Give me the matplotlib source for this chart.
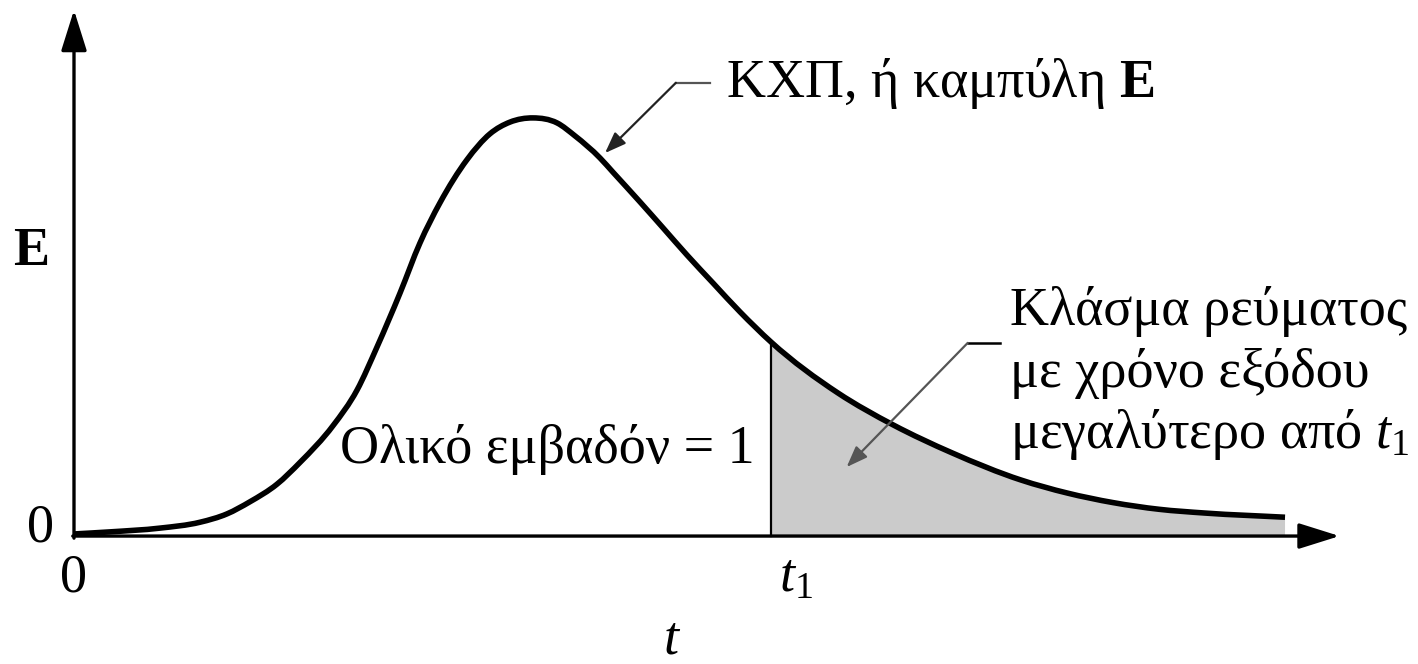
import numpy as np
import matplotlib
matplotlib.use("Agg")
import matplotlib.pyplot as plt
from matplotlib.path import Path
from matplotlib.patches import PathPatch

plt.rcParams["font.family"] = ["Liberation Serif", "DejaVu Serif"]
plt.rcParams["mathtext.fontset"] = "custom"
plt.rcParams["mathtext.rm"] = "Liberation Serif"
plt.rcParams["mathtext.it"] = "Liberation Serif:italic"
plt.rcParams["mathtext.bf"] = "Liberation Serif:bold"

# E(t) curve (t in arbitrary units, E normalised to peak ~1)
t_vals = [0.000, 0.297, 0.710, 1.040, 1.263, 1.453, 1.676, 1.866, 2.139, 2.337,
          2.502, 2.692, 2.857, 3.022, 3.245, 3.435, 3.600, 3.790, 3.989, 4.137,
          4.344, 4.451, 4.674, 4.864, 5.062, 5.277, 5.500, 5.756, 6.309, 6.763,
          7.250, 7.820, 8.200, 8.580, 8.960, 9.339, 10.000]
e_vals = [0.005, 0.010, 0.019, 0.033, 0.053, 0.082, 0.124, 0.176, 0.264, 0.349,
          0.452, 0.581, 0.701, 0.797, 0.900, 0.962, 0.990, 1.000, 0.988, 0.957,
          0.904, 0.870, 0.799, 0.737, 0.672, 0.605, 0.536, 0.464, 0.342, 0.266,
          0.199, 0.134, 0.103, 0.080, 0.064, 0.055, 0.045]
t1 = 5.756

curve_label = r"ΚΧΠ, ή καμπύλη $\mathbf{E}$"
area_label = "Ολικό εμβαδόν = 1"
frac_lines = ["Κλάσμα ρεύματος", "με χρόνο εξόδου", r"μεγαλύτερο από $t_1$"]

FS = 39


def smooth_path(t, e):
    # cubic Hermite segments written as Bezier curves so the line is smooth
    m = np.gradient(e, t)
    verts = [(t[0], e[0])]
    codes = [Path.MOVETO]
    for i in range(len(t) - 1):
        h = t[i + 1] - t[i]
        verts += [(t[i] + h / 3, e[i] + m[i] * h / 3),
                  (t[i + 1] - h / 3, e[i + 1] - m[i + 1] * h / 3),
                  (t[i + 1], e[i + 1])]
        codes += [Path.CURVE4] * 3
    return verts, codes


fig = plt.figure(figsize=(14.18, 6.64), dpi=100)
ax = fig.add_axes([0, 0, 1, 1])
ax.set_xlim(-0.611, 11.098)
ax.set_ylim(-0.306, 1.282)
ax.axis("off")

t = np.array(t_vals)
e = np.array(e_vals)
verts, codes = smooth_path(t, e)

# shaded tail beyond t1
i1 = int(np.argmin(np.abs(t - t1)))
tail_v = verts[3 * i1:] + [(t[-1], 0), (t[i1], 0), (t[i1], e[i1])]
tail_c = [Path.MOVETO] + codes[3 * i1 + 1:] + [Path.LINETO, Path.LINETO, Path.CLOSEPOLY]
ax.add_patch(PathPatch(Path(tail_v, tail_c), facecolor="#cbcbcb", edgecolor="none", zorder=1))

ax.add_patch(PathPatch(Path(verts, codes), facecolor="none", edgecolor="black",
                       lw=4.0, capstyle="butt", zorder=3))
ax.plot([t1, t1], [0, e[i1]], color="black", lw=1.6, zorder=2)

# axes with arrow heads
axis_arrow = dict(arrowstyle="-|>,head_length=0.7,head_width=0.22",
                  lw=2.4, color="black", mutation_scale=36, shrinkA=0, shrinkB=0)
ax.annotate("", xy=(0, 1.258), xytext=(0, -0.005), arrowprops=axis_arrow, zorder=4)
ax.annotate("", xy=(10.45, 0), xytext=(-0.01, 0), arrowprops=axis_arrow, zorder=4)

# leader for the curve label
ax.plot([4.97, 5.25], [1.084, 1.084], color="#555555", lw=1.6)
ax.annotate("", xy=(4.385, 0.916), xytext=(4.97, 1.084),
            arrowprops=dict(arrowstyle="-|>,head_length=0.8,head_width=0.3",
                            lw=1.6, color="#222222", mutation_scale=16,
                            shrinkA=0, shrinkB=0))

# leader for the tail label
ax.plot([7.38, 7.65], [0.462, 0.462], color="black", lw=1.8)
ax.annotate("", xy=(6.38, 0.165), xytext=(7.38, 0.462),
            arrowprops=dict(arrowstyle="-|>,head_length=0.8,head_width=0.3",
                            lw=1.6, color="#555555", mutation_scale=16,
                            shrinkA=0, shrinkB=0))

# texts
ax.text(5.38, 1.050, curve_label, fontsize=FS, ha="left", va="baseline")
ax.text(2.20, 0.175, area_label, fontsize=FS, ha="left", va="baseline")
frac_y = [0.505, 0.356, 0.211]
for line, y in zip(frac_lines, frac_y):
    ax.text(7.73, y, line, fontsize=FS, ha="left", va="baseline")

ax.text(-0.50, 0.648, "E", fontsize=FS, fontweight="bold", ha="left", va="baseline")
ax.text(-0.28, -0.014, "0", fontsize=FS, ha="center", va="baseline")
ax.text(0.0, -0.132, "0", fontsize=FS, ha="center", va="baseline")
ax.text(5.82, -0.132, r"$t_1$", fontsize=FS, ha="left", va="baseline")
ax.text(4.87, -0.280, "t", fontsize=FS, fontstyle="italic", ha="left", va="baseline")

fig.savefig("out.png", dpi=100)
